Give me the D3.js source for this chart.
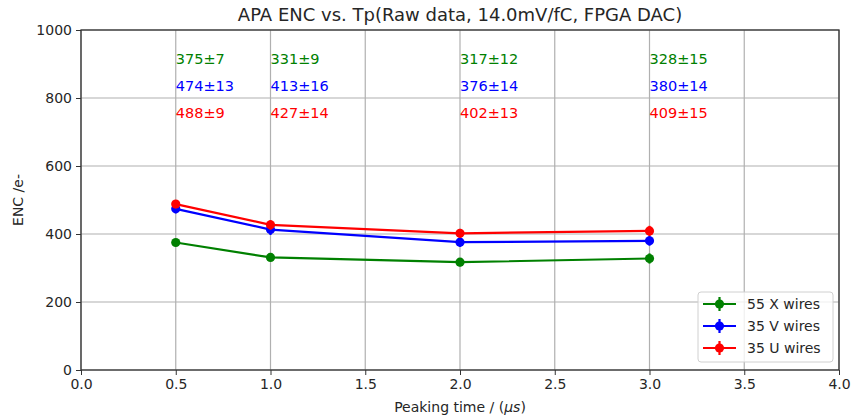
<!DOCTYPE html>
<html>
<head>
<meta charset="utf-8">
<script src="https://cdn.jsdelivr.net/npm/d3@7"></script>
<style>
body{margin:0;background:#fff;}
text{font-family:"DejaVu Sans",sans-serif;}
</style>
</head>
<body>
<div id="canvas"></div>
<script>
// data
var tp = [0.5, 1.0, 2.0, 3.0];
var encX = [375, 331, 317, 328];
var errX = [7, 9, 12, 15];
var encV = [474, 413, 376, 380];
var errV = [13, 16, 14, 14];
var encU = [488, 427, 402, 409];
var errU = [9, 14, 13, 15];
var seriesNames = ['55 X wires', '35 V wires', '35 U wires'];
var seriesColors = ['#008000', '#0000ff', '#ff0000'];
var labelY = [900, 820, 740];
var xTicks = [0, 0.5, 1, 1.5, 2, 2.5, 3, 3.5, 4];
var yTicks = [0, 200, 400, 600, 800, 1000];

var series = [
  {name: seriesNames[0], color: seriesColors[0], vals: encX, errs: errX, ly: labelY[0]},
  {name: seriesNames[1], color: seriesColors[1], vals: encV, errs: errV, ly: labelY[1]},
  {name: seriesNames[2], color: seriesColors[2], vals: encU, errs: errU, ly: labelY[2]}
];

var m = {t:30, r:15, b:48, l:81};
var outerWidth = 854, outerHeight = 418;
var w = outerWidth - m.l - m.r,
    h = outerHeight - m.t - m.b;

var svg = d3.select('#canvas').append('svg')
    .attr('width', outerWidth)
    .attr('height', outerHeight);

var plot = svg.append('g')
    .attr('transform', 'translate(' + m.l + ',' + m.t + ')');

var scaleX = d3.scaleLinear().domain([0, 4]).range([0, w]);
var scaleY = d3.scaleLinear().domain([0, 1000]).range([h, 0]);

// grid
plot.append('g').selectAll('line').data(xTicks).enter().append('line')
    .attr('x1', function(d){return scaleX(d)}).attr('x2', function(d){return scaleX(d)})
    .attr('y1', 0).attr('y2', h)
    .attr('stroke', '#b0b0b0').attr('stroke-width', 1.2);
plot.append('g').selectAll('line').data(yTicks).enter().append('line')
    .attr('y1', function(d){return scaleY(d)}).attr('y2', function(d){return scaleY(d)})
    .attr('x1', 0).attr('x2', w)
    .attr('stroke', '#b0b0b0').attr('stroke-width', 1.2);

// axes
var axisX = d3.axisBottom(scaleX).tickValues(xTicks).tickFormat(d3.format('.1f')).tickSize(5).tickPadding(4);
var axisY = d3.axisLeft(scaleY).tickValues(yTicks).tickFormat(d3.format('d')).tickSize(5).tickPadding(4);

var gx = plot.append('g').attr('transform', 'translate(0,' + h + ')').call(axisX);
var gy = plot.append('g').call(axisY);
[gx, gy].forEach(function(g){
  g.select('.domain').remove();
  g.selectAll('line').attr('stroke', '#333');
  g.selectAll('text').attr('fill', '#262626').style('font-size', '14px').style('font-family', 'DejaVu Sans');
});

// frame
plot.append('rect').attr('x', 0).attr('y', 0).attr('width', w).attr('height', h)
    .attr('fill', 'none').attr('stroke', '#333').attr('stroke-width', 1.3);

// lines, markers, error bars
var line = d3.line()
    .x(function(d){return scaleX(d.x)})
    .y(function(d){return scaleY(d.y)});

series.forEach(function(s){
  var pts = tp.map(function(x, i){return {x: x, y: s.vals[i], e: s.errs[i]}});
  var g = plot.append('g');
  g.append('path').datum(pts).attr('d', line)
      .attr('fill', 'none').attr('stroke', s.color).attr('stroke-width', 2.2);
  g.selectAll('.err').data(pts).enter().append('line')
      .attr('x1', function(d){return scaleX(d.x)}).attr('x2', function(d){return scaleX(d.x)})
      .attr('y1', function(d){return scaleY(d.y - d.e)}).attr('y2', function(d){return scaleY(d.y + d.e)})
      .attr('stroke', s.color).attr('stroke-width', 2.2);
  g.selectAll('circle').data(pts).enter().append('circle')
      .attr('cx', function(d){return scaleX(d.x)})
      .attr('cy', function(d){return scaleY(d.y)})
      .attr('r', 4.6).attr('fill', s.color);
  // value annotations
  g.selectAll('.ann').data(pts).enter().append('text')
      .attr('x', function(d){return scaleX(d.x)})
      .attr('y', function(d){return scaleY(s.ly)})
      .attr('fill', s.color).style('font-size', '14.5px')
      .text(function(d){return d.y + '±' + d.e});
});

// title and labels
svg.append('text').attr('x', m.l + w/2).attr('y', 21).attr('text-anchor', 'middle')
    .style('font-size', '18px').attr('fill', '#262626')
    .text('APA ENC vs. Tp(Raw data, 14.0mV/fC, FPGA DAC)');
var xl = svg.append('text').attr('x', m.l + w/2).attr('y', 412).attr('text-anchor', 'middle')
    .style('font-size', '14px').attr('fill', '#262626');
xl.append('tspan').text('Peaking time / (');
xl.append('tspan').style('font-style', 'italic').text('μs');
xl.append('tspan').text(')');
svg.append('text').attr('transform', 'translate(23,' + (m.t + h/2) + ') rotate(-90)')
    .attr('text-anchor', 'middle').style('font-size', '14px').attr('fill', '#262626')
    .text('ENC /e-');

// legend
var lg = svg.append('g').attr('transform', 'translate(698,292)');
lg.append('rect').attr('width', 135).attr('height', 70).attr('rx', 3)
    .attr('fill', 'rgba(255,255,255,0.8)').attr('stroke', '#d0d0d0');
series.forEach(function(s, i){
  var yy = 12 + i * 22;
  lg.append('line').attr('x1', 5).attr('x2', 38).attr('y1', yy).attr('y2', yy)
      .attr('stroke', s.color).attr('stroke-width', 2.2);
  lg.append('line').attr('x1', 21.5).attr('x2', 21.5).attr('y1', yy - 7).attr('y2', yy + 7)
      .attr('stroke', s.color).attr('stroke-width', 2.2);
  lg.append('circle').attr('cx', 21.5).attr('cy', yy).attr('r', 4.6).attr('fill', s.color);
  lg.append('text').attr('x', 49).attr('y', yy + 5).style('font-size', '14px')
      .attr('fill', '#262626').text(s.name);
});
</script>
</body>
</html>
